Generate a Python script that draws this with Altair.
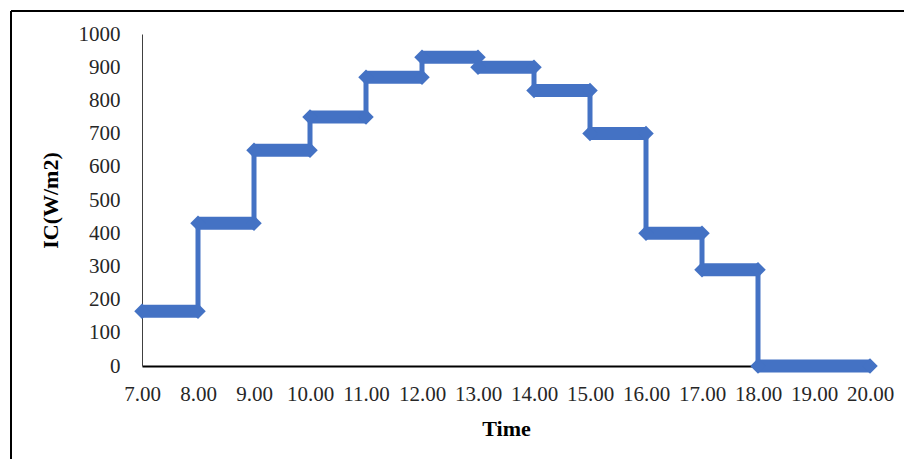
import altair as alt
import pandas as pd

# Data (step profile of IC in W/m2 per hour)
start_hours = [7, 8, 9, 10, 11, 12, 13, 14, 15, 16, 17, 18]
end_hours = [8, 9, 10, 11, 12, 13, 14, 15, 16, 17, 18, 20]
ic_values = [165, 430, 650, 750, 870, 930, 900, 830, 700, 400, 290, 0]
x_ticks = [7, 8, 9, 10, 11, 12, 13, 14, 15, 16, 17, 18, 19, 20]
y_ticks = [0, 100, 200, 300, 400, 500, 600, 700, 800, 900, 1000]

BLUE = "#4472C4"
FONT = "Liberation Serif"

seg = pd.DataFrame({"start": start_hours, "end": end_hours, "value": ic_values})

path_rows = []
k = 0
for s, e, v in zip(start_hours, end_hours, ic_values):
    path_rows.append({"x": s, "y": v, "order": k}); k += 1
    path_rows.append({"x": e, "y": v, "order": k}); k += 1
path = pd.DataFrame(path_rows)

ends = pd.DataFrame(
    [{"x": s, "y": v} for s, v in zip(start_hours, ic_values)]
    + [{"x": e, "y": v} for e, v in zip(end_hours, ic_values)]
)

xscale = alt.Scale(domain=[7, 20], nice=False, zero=False)
yscale = alt.Scale(domain=[0, 1000], nice=False)

xaxis = alt.Axis(
    values=x_ticks, tickCount=14, format=".2f", ticks=False, grid=False,
    labelOverlap=False, labelFlush=False, labelBound=False,
    domainColor="#000000", domainWidth=2,
    labelFont=FONT, labelFontSize=21, labelColor="#262626", labelPadding=17,
    title="Time", titleFont=FONT, titleFontSize=22, titleFontWeight="bold",
    titleColor="#000000", titleX=364, titleY=62, titleBaseline="middle",
    titleAlign="center",
)
yaxis = alt.Axis(
    values=y_ticks, tickCount=11, format="d", ticks=False, grid=False,
    labelOverlap=False, labelFlush=False, labelBound=False,
    domainColor="#404040", domainWidth=1,
    labelFont=FONT, labelFontSize=21, labelColor="#262626", labelPadding=22,
    title="IC(W/m2)", titleFont=FONT, titleFontSize=22, titleFontWeight="bold",
    titleColor="#000000", titleX=-92, titleY=166, titleAngle=270,
    titleBaseline="middle", titleAlign="center",
)

line = alt.Chart(path).mark_line(color=BLUE, strokeWidth=5).encode(
    x=alt.X("x:Q", scale=xscale, axis=xaxis, title="Time"),
    y=alt.Y("y:Q", scale=yscale, axis=yaxis, title="IC(W/m2)"),
    order="order:Q",
)

band = alt.Chart(seg).mark_rule(color=BLUE, strokeWidth=13, strokeCap="butt").encode(
    x=alt.X("start:Q", scale=xscale, axis=xaxis, title="Time"),
    x2="end:Q",
    y=alt.Y("value:Q", scale=yscale, axis=yaxis, title="IC(W/m2)"),
)

tips = alt.Chart(ends).mark_point(
    shape="diamond", filled=True, color=BLUE, size=240, opacity=1
).encode(
    x=alt.X("x:Q", scale=xscale, axis=xaxis, title="Time"),
    y=alt.Y("y:Q", scale=yscale, axis=yaxis, title="IC(W/m2)"),
)

frame_df = pd.DataFrame({"a": [0]})
left_border = alt.Chart(frame_df).mark_rule(color="#000000", strokeWidth=2).encode(
    x=alt.value(-131), y=alt.value(-23), y2=alt.value(140 + 332)
)
top_border = alt.Chart(frame_df).mark_rule(color="#000000", strokeWidth=2).encode(
    x=alt.value(-131), x2=alt.value(800), y=alt.value(-23)
)

chart = (
    alt.layer(line, band, tips, left_border, top_border)
    .properties(
        width=728,
        height=332,
        autosize=alt.AutoSizeParams(type="none"),
        padding={"left": 142, "top": 34, "right": 34, "bottom": 93},
        background="#ffffff",
    )
    .configure_view(stroke=None)
)

chart.save("out.html", embed_options={"renderer": "svg", "actions": False})
